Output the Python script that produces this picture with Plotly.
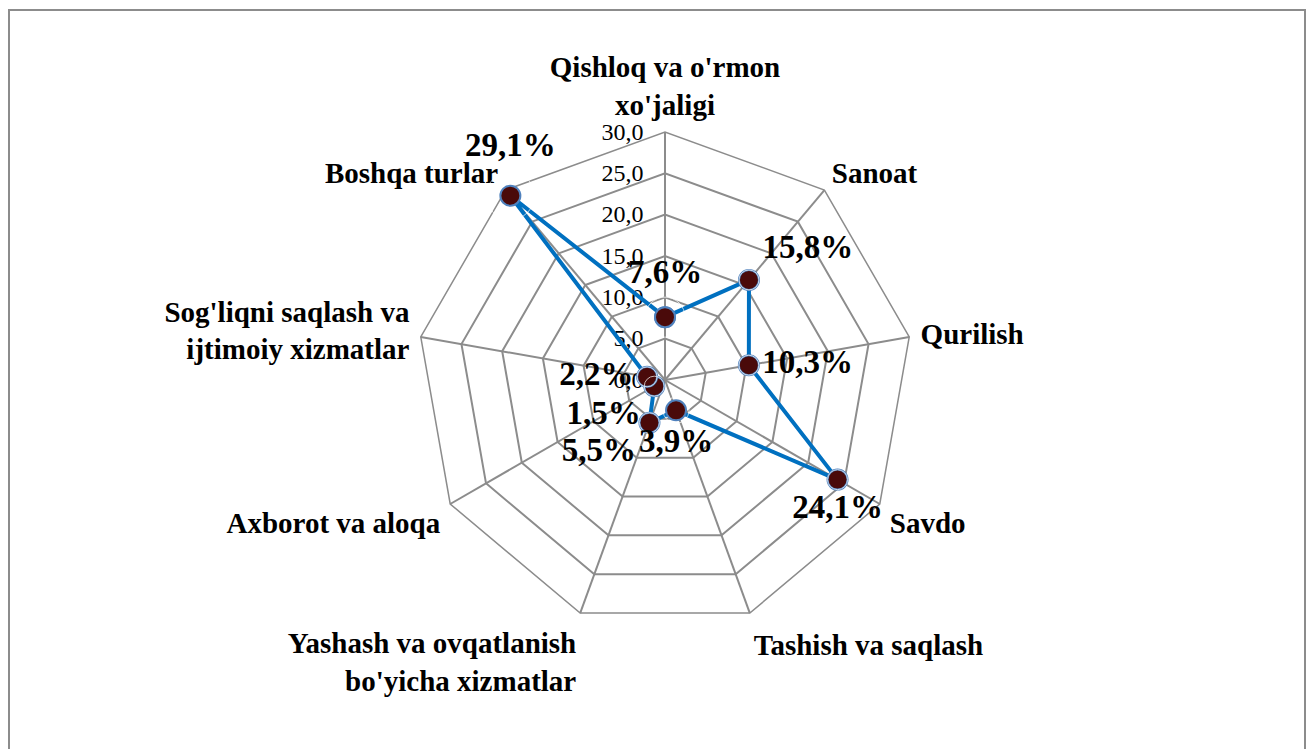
import plotly.graph_objects as go

# sectors (clockwise from top) and their shares, %
categories = [
    "Qishloq va o'rmon<br>xo'jaligi",
    "Sanoat",
    "Qurilish",
    "Savdo",
    "Tashish va saqlash",
    "Yashash va ovqatlanish<br>bo'yicha xizmatlar",
    "Axborot va aloqa",
    "Sog'liqni saqlash va<br>ijtimoiy xizmatlar",
    "Boshqa turlar",
]
values = [7.6, 15.8, 10.3, 24.1, 3.9, 5.5, 1.5, 2.2, 29.1]
radial_ticks = [0, 5, 10, 15, 20, 25, 30]
radial_ticktext = ["0,0", "5,0", "10,0", "15,0", "20,0", "25,0", "30,0"]

labels = [f"{v:.1f}".replace(".", ",") + "%" for v in values]
label_pos = ["top center", "top right", "middle right", "bottom center",
             "bottom center", "bottom left", "bottom left", "middle left", "top center"]
# spacing of each label from its point (size of an invisible marker)
label_gap = [40, 20, 20, 20, 26, 20, 20, 20, 48]

# page body has an 8px margin, so the figure is a bit smaller than the window
W, H = 1306, 741
cx, cy, R = 657, 372, 248  # polar centre and radius in figure px

fig = go.Figure()

fig.add_trace(go.Scatterpolar(
    r=values + values[:1],
    theta=categories + categories[:1],
    mode="lines+markers",
    line=dict(color="#0070C0", width=4),
    marker=dict(size=20, color="#4A0A0A", line=dict(color="#4F81BD", width=2)),
    showlegend=False,
))

# data labels
fig.add_trace(go.Scatterpolar(
    r=values,
    theta=categories,
    mode="markers+text",
    text=labels,
    textposition=label_pos,
    textfont=dict(family="Liberation Serif", size=33, color="black", weight="bold"),
    marker=dict(size=label_gap, color="rgba(0,0,0,0)"),
    cliponaxis=False,
    showlegend=False,
    hoverinfo="skip",
))

fig.update_layout(
    width=W, height=H,
    margin=dict(l=0, r=0, t=0, b=0),
    paper_bgcolor="white",
    polar=dict(
        domain=dict(x=[(cx - R) / W, (cx + R) / W],
                    y=[(H - cy - R) / H, (H - cy + R) / H]),
        gridshape="linear",
        bgcolor="white",
        radialaxis=dict(
            range=[0, 30], tickvals=radial_ticks,
            ticktext=[t + "\u00a0\u00a0" for t in radial_ticktext],
            angle=90, tickangle=90, side="counterclockwise",
            showline=True, linecolor="#8C8C8C", linewidth=2,
            gridcolor="#8C8C8C", gridwidth=1.5, ticks="", layer="below traces",
            tickfont=dict(family="Liberation Serif", size=24, color="black"),
        ),
        angularaxis=dict(
            rotation=90, direction="clockwise",
            gridcolor="#8C8C8C", gridwidth=1.5, linecolor="#8C8C8C", linewidth=1.5,
            ticks="outside", ticklen=5, tickcolor="rgba(0,0,0,0)", layer="below traces",
            tickfont=dict(family="Liberation Serif", size=29, color="black", weight="bold"),
        ),
    ),
    shapes=[dict(type="rect", xref="paper", yref="paper",
                 x0=1 / W, x1=1297 / W, y0=-0.05, y1=1 - 2 / H,
                 line=dict(color="#8C8C8C", width=2))],
)

fig.write_html("out.html")
